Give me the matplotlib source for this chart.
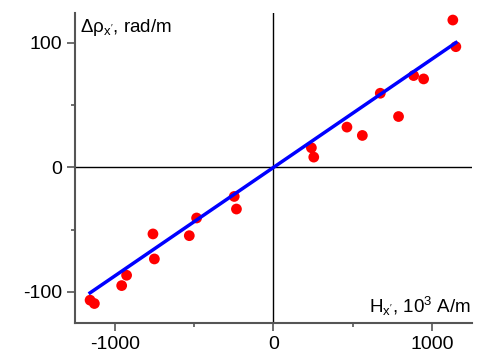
import matplotlib.pyplot as plt
import numpy as np

plt.rcParams['font.family'] = ['Liberation Sans', 'DejaVu Sans']
plt.rcParams['axes.unicode_minus'] = False
plt.rcParams['mathtext.fontset'] = 'custom'
plt.rcParams['mathtext.rm'] = 'Liberation Sans'
plt.rcParams['mathtext.it'] = 'Liberation Sans'
plt.rcParams['mathtext.bf'] = 'Liberation Sans:bold'

# dati sperimentali (H in 10^3 A/m, delta rho in rad/m)
H = [1130, 1149, 883, 946, 673, 788, 463, 560, 239, 254,
     -247, -233, -484, -530, -759, -750, -925, -956, -1155, -1128]
drho = [118.4, 97.0, 73.8, 71.1, 59.6, 40.9, 32.4, 25.7, 15.8, 8.3,
        -23.3, -33.4, -40.6, -54.8, -53.4, -73.5, -86.6, -94.9, -106.6, -109.3]

# retta di fit
fit_x = [-1155, 1150]
pendenza = 0.0872

fig = plt.figure(figsize=(4.82, 3.63), dpi=100)
ax = fig.add_axes([0.1556, 0.110, 0.8234, 0.854])

ax.axhline(0, color="black", linewidth=1)
ax.axvline(0, color="black", linewidth=1)

ax.scatter(H, drho, s=60, color="red", edgecolors="none", zorder=3)
ax.plot(fit_x, [pendenza * v for v in fit_x], color="blue", linewidth=2.5, zorder=4)

ax.set_xlim(-1250, 1250)
ax.set_ylim(-125, 124)

ax.spines["top"].set_visible(False)
ax.spines["right"].set_visible(False)
for s in ["left", "bottom"]:
    ax.spines[s].set_color("#555555")
    ax.spines[s].set_linewidth(1.5)

ax.set_xticks([-1000, 0, 1000])
ax.set_xticks([-500, 500], minor=True)
ax.set_yticks([-100, 0, 100])
ax.set_yticks([-50, 50], minor=True)
ax.tick_params(which="major", length=6, width=1.2, color="#555555", labelsize=14, direction="out")
ax.tick_params(which="minor", length=3, width=1.2, color="#555555", direction="out")

ax.text(0.013, 0.939, r"$\Delta\rho_{x'}$, rad/m", transform=ax.transAxes,
        ha="left", va="baseline", fontsize=13.5)
ax.text(0.997, 0.032, r"H$_{x'}$, 10$^3$ A/m", transform=ax.transAxes,
        ha="right", va="baseline", fontsize=13.5)

fig.savefig("out.png", dpi=100)
